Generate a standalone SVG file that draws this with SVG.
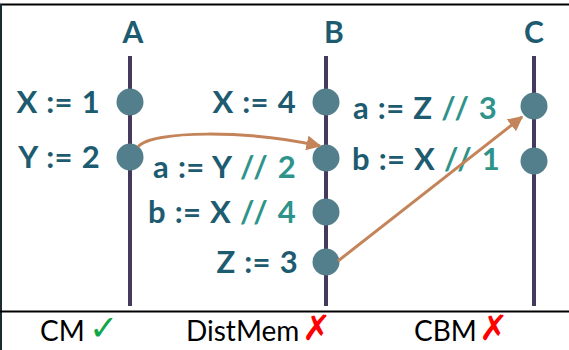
<svg xmlns="http://www.w3.org/2000/svg" width="569" height="350" viewBox="0 0 569 350">
  <style>
    .hdr { font-family: Lato, "Open Sans", sans-serif; font-weight: bold; font-size: 30px; fill: #1d5b70; text-anchor: middle; }
    .lbl { font-family: Lato, "Open Sans", sans-serif; font-weight: bold; font-size: 31px; fill: #1d5b70; letter-spacing: 0.3px; word-spacing: 1px; }
    .cmt { fill: #2e938a; }
    .sl { letter-spacing: 6px; }
    .r { text-anchor: end; }
    .life { stroke: #46395e; stroke-width: 4; }
    .ev { fill: #537f8c; }
    .msg { stroke: #c4845a; stroke-width: 3; fill: none; marker-end: url(#ah); }
    .foot { font-family: Lato, "Open Sans", sans-serif; font-size: 28px; fill: #000; }
    .mark { font-family: "DejaVu Sans", sans-serif; font-size: 35px; }
  </style>
  <defs>
    <marker id="ah" viewBox="0 0 10 10" refX="9" refY="5" markerWidth="5" markerHeight="5" orient="auto" markerUnits="strokeWidth">
      <path d="M0,0 L10,5 L0,10 z" fill="#c4845a"/>
    </marker>
  </defs>
  <rect width="569" height="350" fill="#fff"/>
  <line x1="0" y1="4.5" x2="569" y2="4.5" stroke="#000" stroke-width="2"/>
  <line x1="1" y1="4" x2="1" y2="350" stroke="#1b2b33" stroke-width="2"/>
  <line x1="0" y1="311.5" x2="569" y2="311.5" stroke="#000" stroke-width="2"/>

  <g id="A">
    <text class="hdr" x="133" y="43">A</text>
    <line class="life" x1="130" y1="56" x2="130" y2="306"/>
  </g>
  <g id="B">
    <text class="hdr" x="334" y="43">B</text>
    <line class="life" x1="326" y1="56" x2="326" y2="306"/>
  </g>
  <g id="C">
    <text class="hdr" x="534" y="43">C</text>
    <line class="life" x1="534" y1="56" x2="534" y2="306"/>
  </g>

  <g id="A1"><circle class="ev" cx="130" cy="102" r="13.5"/><text class="lbl r" x="100" y="113">X := 1</text></g>
  <g id="A2"><circle class="ev" cx="130" cy="157" r="13.5"/><text class="lbl r" x="100" y="168">Y := 2</text></g>

  <g id="B1"><circle class="ev" cx="326" cy="102" r="13.5"/><text class="lbl r" x="296" y="113">X := 4</text></g>
  <g id="B2"><circle class="ev" cx="326" cy="158" r="13.5"/><text class="lbl r" x="296" y="178">a := Y <tspan class="cmt"><tspan class="sl">//</tspan><tspan dx="4">2</tspan></tspan></text></g>
  <g id="B3"><circle class="ev" cx="326" cy="212" r="13.5"/><text class="lbl r" x="296" y="223">b := X <tspan class="cmt"><tspan class="sl">//</tspan><tspan dx="4">4</tspan></tspan></text></g>
  <g id="B4"><circle class="ev" cx="326" cy="262" r="13.5"/><text class="lbl r" x="298" y="273">Z := 3</text></g>

  <g id="C1"><circle class="ev" cx="534" cy="106" r="13.5"/><text class="lbl" x="353" y="119">a := Z <tspan class="cmt"><tspan class="sl">//</tspan><tspan dx="4">3</tspan></tspan></text></g>
  <g id="C2"><circle class="ev" cx="534" cy="161" r="13.5"/><text class="lbl" x="352" y="170">b := X <tspan class="cmt"><tspan class="sl">//</tspan><tspan dx="4">1</tspan></tspan></text></g>

  <g id="connectors">
    <path class="msg" d="M138,147 C150,130 250,130 320,146"/>
    <path class="msg" d="M338,261 L522,117"/>
  </g>

  <g id="footer">
    <text class="foot" x="40" y="341">CM</text>
    <text class="mark" x="89" y="340" fill="#10a64a">✓</text>
    <text class="foot" x="186" y="341">DistMem</text>
    <text class="mark" x="302" y="340" fill="#ff0000">✗</text>
    <text class="foot" x="414" y="341">CBM</text>
    <text class="mark" x="479" y="340" fill="#ff0000">✗</text>
  </g>
</svg>
